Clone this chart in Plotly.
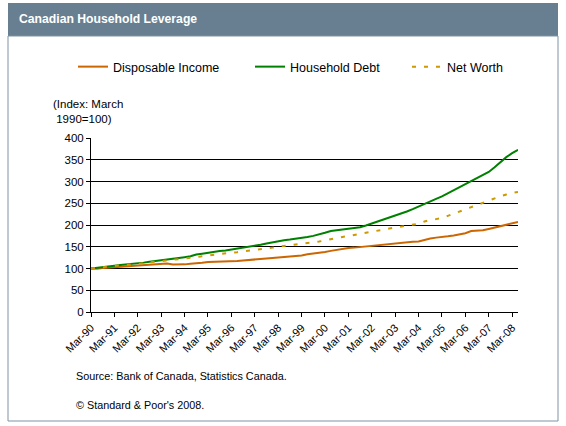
import plotly.graph_objects as go

# ---------------- data (quarterly, index March 1990 = 100) ----------------
months = ["Mar", "Jun", "Sep", "Dec"]
quarters = [f"{m}-{y % 100:02d}" for y in range(1990, 2009) for m in months][:74]

disposable_income = [
    100, 99.5, 101, 102, 102, 103.5, 105, 105.5, 106, 107.5, 109, 110,
    110.5, 111.5, 109, 108.5, 109.5, 111, 111.5, 113, 115, 115.5, 115.5, 115.5,
    115.5, 117, 118.5, 120, 121, 121.5, 123, 124, 125, 126, 128, 129,
    130, 132.5, 134, 136, 138, 140.5, 143, 145.5, 147, 148, 149.5, 150.5,
    151.5, 153, 155, 157, 158.5, 160, 160.5, 161.5, 162, 166, 169, 171,
    172, 174, 176, 178, 181, 186, 187, 188, 191, 194, 197, 200,
    203, 207,
]
household_debt = [
    100, 102, 103.5, 105, 106.5, 108, 109, 110, 112, 113.5, 115.5, 117,
    119, 120.5, 122.5, 124, 126, 128, 132, 134, 136.5, 138.5, 140, 141.5,
    143.5, 146, 148.5, 150, 152, 154.5, 157.5, 160.5, 163.5, 165, 166.5, 168,
    170, 172.5, 175, 178, 182, 186, 187.5, 189, 190.5, 192.5, 195, 199,
    203.5, 207.5, 212, 217, 221, 226, 231, 236.5, 242, 248, 254, 260,
    266, 273, 280, 287, 294, 301, 308, 315, 322, 333, 345, 356,
    365, 373,
]
net_worth = [
    100, 101, 102, 104, 105.5, 107, 108, 109, 110, 112, 114, 115.5,
    116.5, 117.5, 118.5, 120, 122, 124, 126, 128, 130, 131.5, 132.5, 134.5,
    136.5, 137.5, 139, 141, 143, 144.5, 146, 148, 150, 151.5, 153, 155,
    157, 158.5, 160, 162, 164.5, 167.5, 170, 172.5, 174.5, 177.5, 180, 182,
    184.5, 187.5, 190, 192, 194, 196, 198, 200.5, 203, 208, 212, 213.5,
    216, 221, 226, 231, 236, 241.5, 246.5, 252, 256.5, 261.5, 266, 270,
    274, 276,
]
x_tick_labels = quarters[::4]
y_tick_values = [0, 50, 100, 150, 200, 250, 300, 350, 400]

# ---------------- layout geometry (pixels) ----------------
W, H = 566, 426
L, R, T, B = 91, 518, 138, 312  # plot area edges


def px(x):
    return (x - L) / (R - L)


def py(y):
    return (B - y) / (B - T)


fig = go.Figure()
fig.add_trace(go.Scatter(x=quarters, y=disposable_income, mode="lines",
                         name="Disposable Income",
                         line=dict(color="#CC6600", width=2), legend="legend"))
fig.add_trace(go.Scatter(x=quarters, y=household_debt, mode="lines",
                         name="Household Debt",
                         line=dict(color="#008000", width=2), legend="legend2"))
fig.add_trace(go.Scatter(x=quarters, y=net_worth, mode="lines",
                         name="Net Worth",
                         line=dict(color="#CC9900", width=2, dash="4px,8px"),
                         legend="legend3"))

legend_common = dict(xref="container", yref="container", yanchor="middle",
                     xanchor="left", bgcolor="rgba(0,0,0,0)", borderwidth=0,
                     font=dict(family="Liberation Sans, Arial", size=12.5, color="#000"),
                     orientation="h")

shapes = [
    # title bar
    dict(type="rect", xref="paper", yref="paper", x0=px(8), x1=px(558),
         y0=py(36), y1=py(3), fillcolor="#687F91", line=dict(width=0), layer="below"),
    # frame
    dict(type="rect", xref="paper", yref="paper", x0=px(8), x1=px(558),
         y0=py(421), y1=py(36), fillcolor="rgba(0,0,0,0)",
         line=dict(color="#7E93A4", width=1), layer="below"),
]

annotations = [
    dict(text="<b>Canadian Household Leverage</b>", xref="paper", yref="paper",
         x=px(17), y=py(19), xanchor="left", yanchor="middle", showarrow=False,
         font=dict(family="Liberation Sans, Arial", size=12.2, color="white")),
    dict(text="(Index: March<br> 1990=100)", xref="paper", yref="paper",
         x=px(51), y=py(111), xanchor="left", yanchor="middle", showarrow=False,
         align="left",
         font=dict(family="Liberation Sans, Arial", size=11.5, color="#000")),
    dict(text="Source: Bank of Canada, Statistics Canada.", xref="paper", yref="paper",
         x=px(74), y=py(376), xanchor="left", yanchor="middle", showarrow=False,
         font=dict(family="Liberation Sans, Arial", size=10.8, color="#000")),
    dict(text="© Standard &amp; Poor's 2008.", xref="paper", yref="paper",
         x=px(74), y=py(405), xanchor="left", yanchor="middle", showarrow=False,
         font=dict(family="Liberation Sans, Arial", size=10.8, color="#000")),
]

fig.update_layout(
    width=W, height=H,
    margin=dict(l=L, r=W - R, t=T, b=H - B, pad=0),
    paper_bgcolor="white", plot_bgcolor="white",
    showlegend=True, hovermode=False,
    legend=dict(x=73 / W, y=1 - 67 / H, **legend_common),
    legend2=dict(x=250 / W, y=1 - 67 / H, **legend_common),
    legend3=dict(x=407 / W, y=1 - 67 / H, **legend_common),
    shapes=shapes,
    annotations=annotations,
    xaxis=dict(
        type="category", categoryorder="array", categoryarray=quarters,
        range=[0, 73], tickmode="array", tickvals=x_tick_labels,
        ticktext=x_tick_labels, tickangle=-45,
        ticks="outside", ticklen=4, tickcolor="#000", tickwidth=1,
        showline=True, linecolor="#000", linewidth=1,
        showgrid=False, zeroline=False,
        tickfont=dict(family="Liberation Sans, Arial", size=11, color="#000"),
    ),
    yaxis=dict(
        range=[0, 400], tickmode="array", tickvals=y_tick_values,
        ticks="outside", ticklen=4, tickcolor="#000", tickwidth=1,
        showline=True, linecolor="#000", linewidth=1,
        showgrid=True, gridcolor="#000", gridwidth=1, zeroline=False,
        tickfont=dict(family="Liberation Sans, Arial", size=11.5, color="#000"),
    ),
)

fig.write_html("out.html", config={"displayModeBar": False},
               post_script="document.body.style.margin='0';document.body.style.overflow='hidden';")
